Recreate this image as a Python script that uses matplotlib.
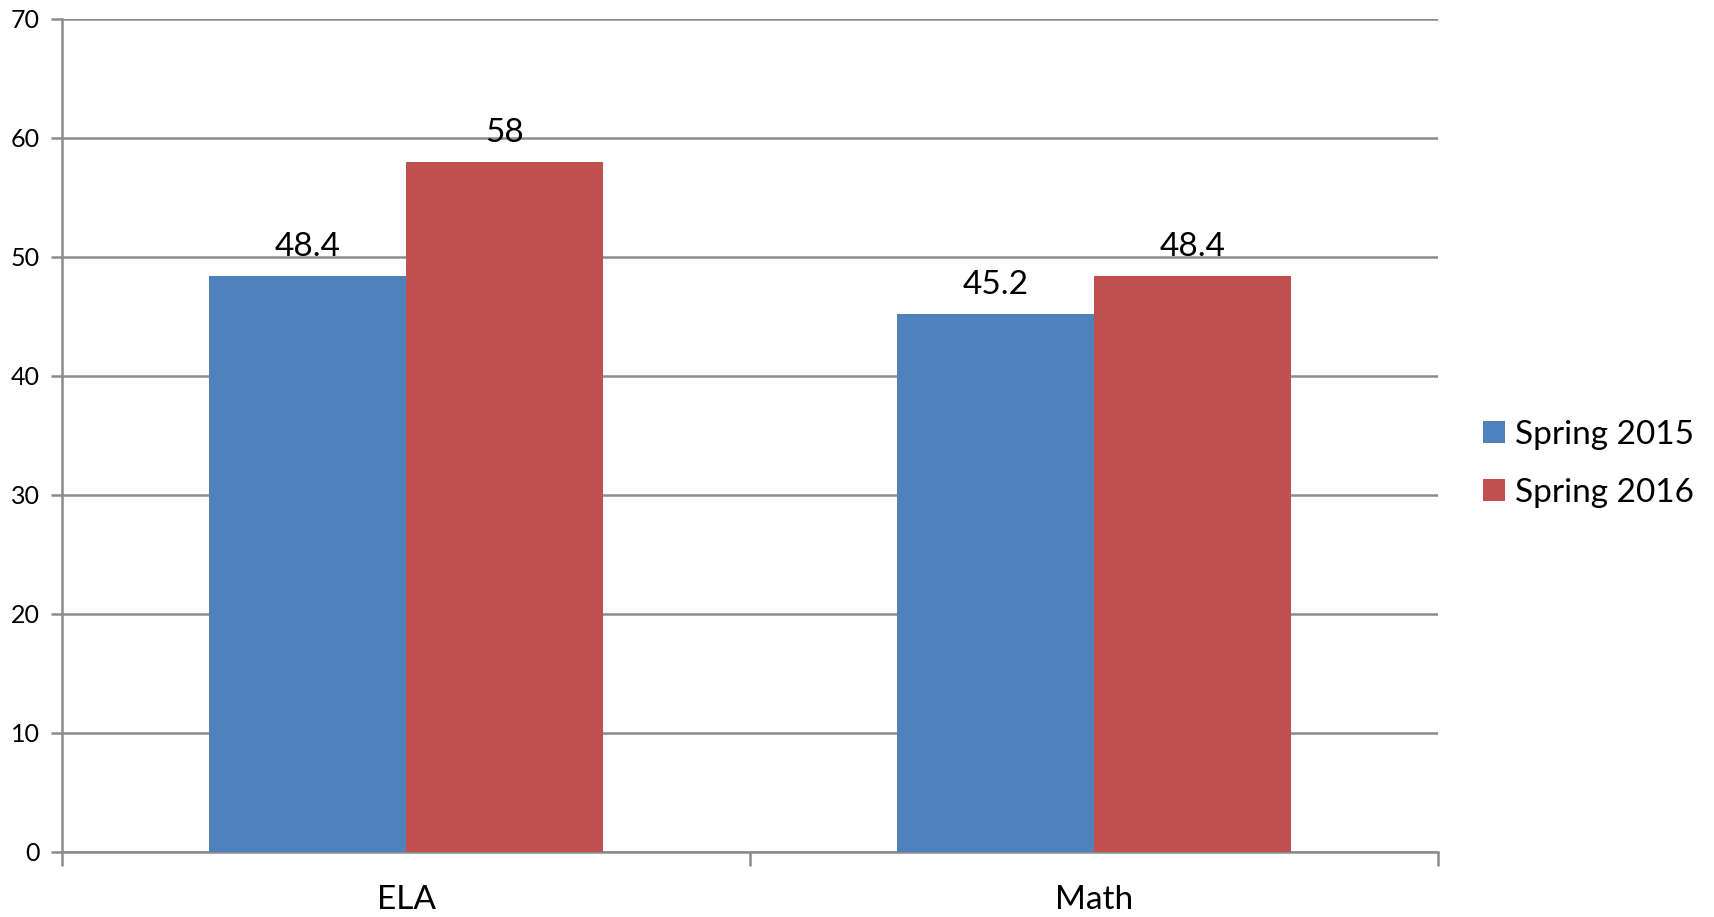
import numpy as np
import matplotlib.pyplot as plt

categories = ['ELA', 'Math']
series_names = ['Spring 2015', 'Spring 2016']
spring_2015 = [48.4, 45.2]
spring_2016 = [58, 48.4]
colors = ['#4F81BD', '#C0504D']

plt.rcParams['font.family'] = ['Lato', 'DejaVu Sans']

fig = plt.figure(figsize=(17.15, 9.17), dpi=100)
ax = fig.add_axes([0.0362, 0.0709, 0.8023, 0.9084])

x = np.arange(len(categories))
width = 0.286
grid_col = '#8C8C8C'

for i, (vals, name) in enumerate(zip([spring_2015, spring_2016], series_names)):
    pos = x + (i - 0.5) * width
    bars = ax.bar(pos, vals, width, color=colors[i], label=name, zorder=3)
    for b, v in zip(bars, vals):
        ax.annotate(f'{v:g}', (b.get_x() + b.get_width() / 2, v),
                    xytext=(0, 10), textcoords='offset points',
                    ha='center', va='bottom', fontsize=24)

ax.set_xlim(-0.5, 1.5)
ax.set_ylim(0, 70)
ax.set_yticks(np.arange(0, 71, 10))
ax.yaxis.grid(True, color=grid_col, linewidth=1.8, zorder=0)
ax.set_axisbelow(True)

# category labels in the middle, tick marks on the boundaries
ax.set_xticks([-0.5, 0.5, 1.5])
ax.set_xticklabels([])
ax.set_xticks(x, minor=True)
ax.set_xticklabels(categories, minor=True, fontsize=24)
ax.tick_params(axis='x', which='minor', length=0, pad=24)
ax.tick_params(axis='x', which='major', length=10, width=1.8, color=grid_col)
ax.tick_params(axis='y', length=8, width=1.8, color=grid_col, labelsize=18, pad=8)

for side in ['top', 'right']:
    ax.spines[side].set_visible(False)
for side in ['left', 'bottom']:
    ax.spines[side].set_color(grid_col)
    ax.spines[side].set_linewidth(1.8)

leg = ax.legend(loc='center left', bbox_to_anchor=(1.033, 0.466), frameon=False,
                fontsize=24, handlelength=0.65, handleheight=0.65,
                handletextpad=0.3, labelspacing=0.85, borderpad=0,
                borderaxespad=0)

fig.savefig('out.png', dpi=100)
